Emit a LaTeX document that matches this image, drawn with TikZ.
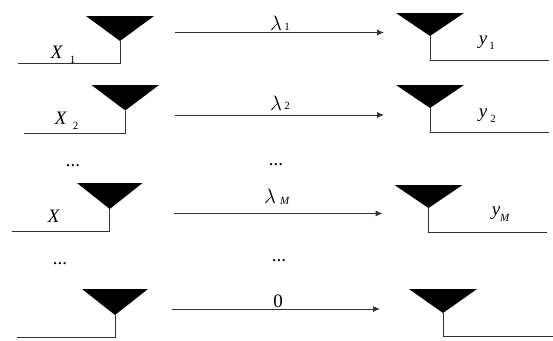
\documentclass[tikz,border=0pt]{standalone}
\usepackage{fontspec}
\setmainfont{Liberation Serif}
\usetikzlibrary{arrows.meta}
\newcommand{\antenna}[7]{% name, xl, xr, ytop, yapex, yfoot, xend
  \coordinate (#1L) at (#2,#4);
  \coordinate (#1R) at (#3,#4);
  \coordinate (#1A) at ({(#2+#3)/2},#5);
  \coordinate (#1F) at ({(#2+#3)/2},#6);
  \coordinate (#1E) at (#7,#6);
  \fill[black] (#1L) -- (#1R) -- (#1A) -- cycle;
  \draw[wire] (#1A) -- (#1F) -- (#1E);
}
\tikzset{
  wire/.style={line width=1pt,draw=black!80},
  link/.style={wire,-{Latex[length=7pt,width=6pt]}},
  lbl/.style={inner sep=0pt,font=\fontsize{19}{19}\selectfont},
  lam/.style={inner sep=0pt,font=\fontsize{22}{22}\selectfont},
  sub/.style={inner sep=0pt,font=\fontsize{11}{11}\selectfont},
  dotslbl/.style={inner sep=0pt,font=\fontsize{19}{19}\selectfont}
}
\begin{document}
\begin{tikzpicture}[x=1pt,y=-1pt]
\useasboundingbox (0,0) rectangle (553,340);
\antenna{ta}{86}{154}{16}{41}{63.5}{18}
\antenna{tb}{91.5}{159}{85}{110.5}{133}{24}
\antenna{tc}{77}{142.5}{183}{209}{231}{12}
\antenna{td}{82}{148}{289}{315}{337}{17}
\antenna{ra}{396}{464}{13}{36}{60}{549}
\antenna{rb}{396}{464}{85}{108}{132}{549}
\antenna{rc}{394.5}{462.5}{185}{208}{232}{547}
\antenna{rd}{409}{477}{289}{313}{336}{553}
\coordinate (s1) at (175,32.5); \coordinate (e1) at (384,32.5);
\coordinate (s2) at (175,115); \coordinate (e2) at (384,115);
\coordinate (s3) at (174,213.5); \coordinate (e3) at (382.5,213.5);
\coordinate (s4) at (172,309); \coordinate (e4) at (380,309);
\draw[link] (s1) -- (e1);
\draw[link] (s2) -- (e2);
\draw[link] (s3) -- (e3);
\draw[link] (s4) -- (e4);
\node[lbl] (xa) at (57,52) {\textit{X}};
\node[sub] (xas) at (72.5,60) {1};
\node[lbl] (xb) at (61,118) {\textit{X}};
\node[sub] (xbs) at (75.5,126) {2};
\node[lbl] (xc) at (54,216) {\textit{X}};
\node[lbl] (ya) at (483,42) {\textit{y}};
\node[sub] (yas) at (492,46) {1};
\node[lbl] (yb) at (483,115) {\textit{y}};
\node[sub] (ybs) at (493,119) {2};
\node[lbl] (yc) at (496,213) {\textit{y}};
\node[sub] (ycs) at (505,218) {\textit{M}};
\node[lam] (la) at (276,23) {$\lambda$};
\node[sub] (las) at (287,27) {1};
\node[lam] (lb) at (276,103) {$\lambda$};
\node[sub] (lbs) at (287,106) {2};
\node[lam] (lc) at (270,196) {$\lambda$};
\node[sub] (lcs) at (285,201) {\textit{M}};
\node[lbl] (z) at (278,301) {0};
\node[dotslbl] (da) at (73,166) {...};
\node[dotslbl] (db) at (276,165) {...};
\node[dotslbl] (dc) at (60,264) {...};
\node[dotslbl] (dd) at (279,261) {...};
\end{tikzpicture}
\end{document}
